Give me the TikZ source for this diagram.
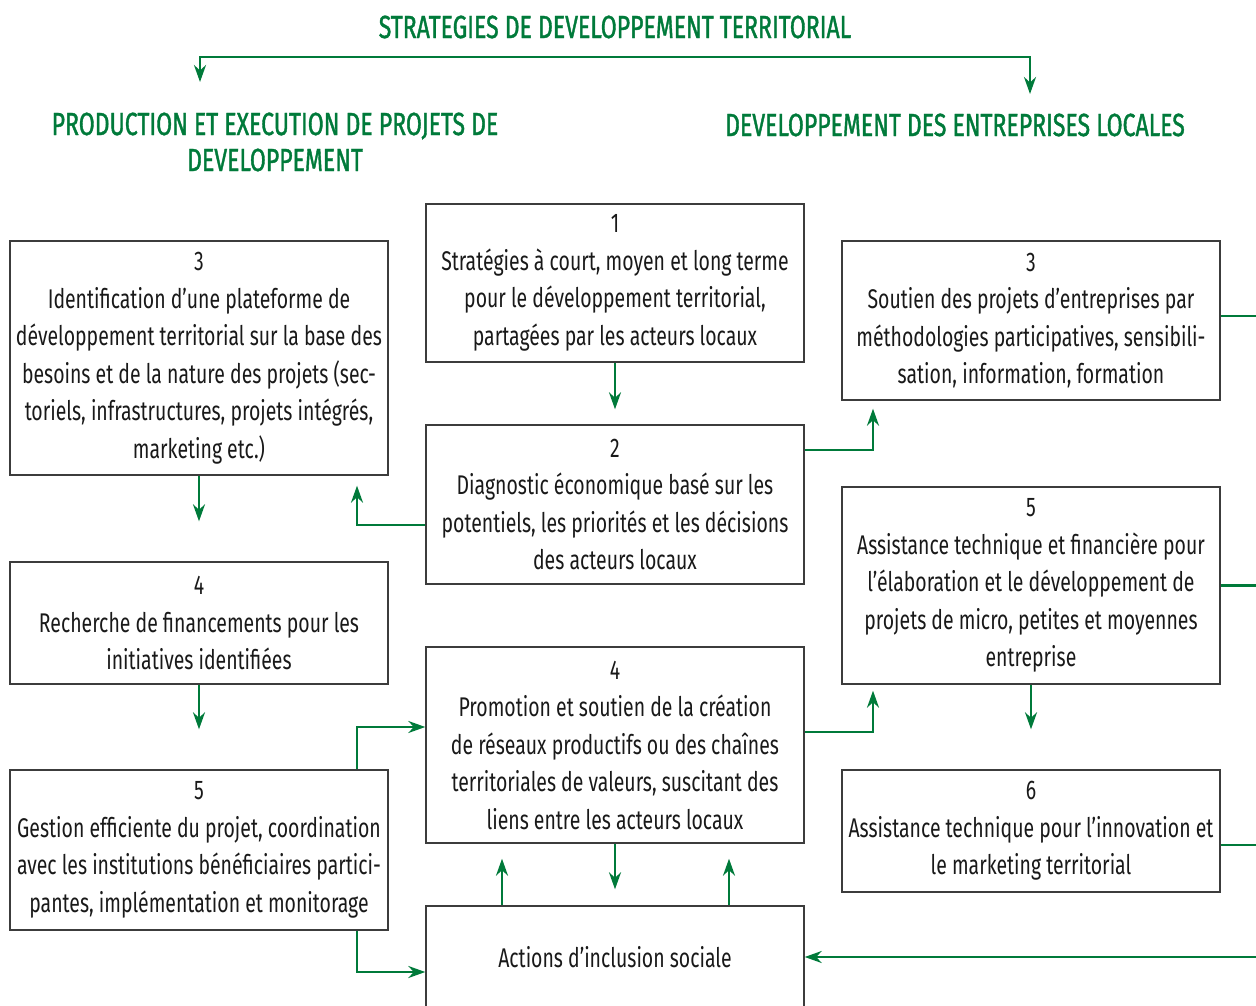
\documentclass[tikz,border=0pt]{standalone}
\usepackage{fontspec}
\setmainfont{Fira Sans}[FakeStretch=0.72]
\newfontfamily\headfont{Fira Sans}[FakeStretch=0.72, FakeBold=1.2]
\usetikzlibrary{arrows.meta}
\definecolor{leafgreen}{RGB}{0,122,58}
\definecolor{boxgray}{RGB}{60,60,60}
\begin{document}
\begin{tikzpicture}[x=1pt, y=-1pt,
    box/.style={draw=boxgray, line width=1.4pt, minimum width=378pt, align=center,
      inner sep=4pt, text=black!90, font=\fontsize{27}{37.5}\selectfont},
    flow/.style={draw=leafgreen, line width=2.6pt},
    link/.style={flow, -{Stealth[length=17pt, width=12pt]}},
    head/.style={text=leafgreen, align=center, font=\headfont\fontsize{32}{36}\selectfont}]
    \useasboundingbox (0,0) rectangle (1256,1006);
    \clip (0,0) rectangle (1256,1006);

    % titles
    \node[head] (ht) at (615,27) {STRATEGIES DE DEVELOPPEMENT TERRITORIAL};
    \node[head] (hp) at (275,142) {PRODUCTION ET EXECUTION DE PROJETS DE\\DEVELOPPEMENT};
    \node[head] (he) at (955,125) {DEVELOPPEMENT DES ENTREPRISES LOCALES};

    \coordinate (tl) at (200,82);
    \coordinate (tr) at (1030,94);
    \coordinate (hl) at (200,57);
    \coordinate (hr) at (1030,57);
    \draw[flow, {Stealth[length=17pt, width=12pt]}-{Stealth[length=17pt, width=12pt]}]
      (tl) -- (hl) -- (hr) -- (tr);

    % centre column
    \node[box, minimum height=158pt] (c1) at (615,283)
      {1\\Stratégies à court, moyen et long terme\\pour le développement territorial,\\partagées par les acteurs locaux};
    \node[box, minimum height=159pt] (c2) at (615,504.5)
      {2\\Diagnostic économique basé sur les\\potentiels, les priorités et les décisions\\des acteurs locaux};
    \node[box, minimum height=196pt] (c4) at (615,745)
      {4\\Promotion et soutien de la création\\de réseaux productifs ou des chaînes\\territoriales de valeurs, suscitant des\\liens entre les acteurs locaux};
    \node[box, minimum height=102pt] (ci) at (615,957) {Actions d’inclusion sociale};

    % left column
    \node[box, minimum height=234pt] (l3) at (199,358)
      {3\\Identification d’une plateforme de\\développement territorial sur la base des\\besoins et de la nature des projets (sec-\\toriels, infrastructures, projets intégrés,\\marketing etc.)};
    \node[box, minimum height=122pt] (l4) at (199,623)
      {4\\Recherche de financements pour les\\initiatives identifiées};
    \node[box, minimum height=160pt] (l5) at (199,850)
      {5\\Gestion efficiente du projet, coordination\\avec les institutions bénéficiaires partici-\\pantes, implémentation et monitorage};

    % right column
    \node[box, minimum height=159pt] (r3) at (1031,320.5)
      {3\\Soutien des projets d’entreprises par\\méthodologies participatives, sensibili-\\sation, information, formation};
    \node[box, minimum height=197pt] (r5) at (1031,585.5)
      {5\\Assistance technique et financière pour\\l’élaboration et le développement de\\projets de micro, petites et moyennes\\entreprise};
    \node[box, minimum height=122pt] (r6) at (1031,831)
      {6\\Assistance technique pour l’innovation et\\le marketing territorial};

    % arrows
    \draw[link, shorten >=15pt] (c1) -- (c2);
    \draw[link, shorten >=16pt] (c4) -- (ci);
    \draw[link, shorten >=40pt] (l3) -- (l4);
    \draw[link, shorten >=40pt] (l4) -- (l5);
    \draw[link, shorten >=40pt] (r5) -- (r6);

    \coordinate (k1) at (873,450);
    \coordinate (k2) at (357,525);
    \coordinate (k3) at (357,727);
    \coordinate (k4) at (357,972);
    \coordinate (k5) at (873,732);
    \draw[link, shorten >=8pt] (k1 -| c2.east) -- (k1) -- (r3.south -| k1);
    \draw[link, shorten >=10pt] (k2 -| c2.west) -- (k2) -- (l3.south -| k2);
    \draw[link] (l5.north -| k3) -- (k3) -- (k3 -| c4.west);
    \draw[link] (l5.south -| k4) -- (k4) -- (k4 -| ci.west);
    \draw[link, shorten >=6pt] (k5 -| c4.east) -- (k5) -- (r5.south -| k5);

    \coordinate (u1) at (502,0);
    \coordinate (u2) at (729,0);
    \draw[link, shorten >=15pt] (ci.north -| u1) -- (c4.south -| u1);
    \draw[link, shorten >=15pt] (ci.north -| u2) -- (c4.south -| u2);

    % lines to the right edge
    \coordinate (rx) at (1264,0);
    \coordinate (m3) at (0,316);
    \coordinate (m6) at (0,845);
    \draw[flow] (m3 -| r3.east) -- (m3 -| rx);
    \draw[flow] (r5.east) -- (r5.east -| rx);
    \draw[flow] (m6 -| r6.east) -- (m6 -| rx);
    \draw[link] (ci.east -| rx) -- (ci.east);
\end{tikzpicture}
\end{document}
